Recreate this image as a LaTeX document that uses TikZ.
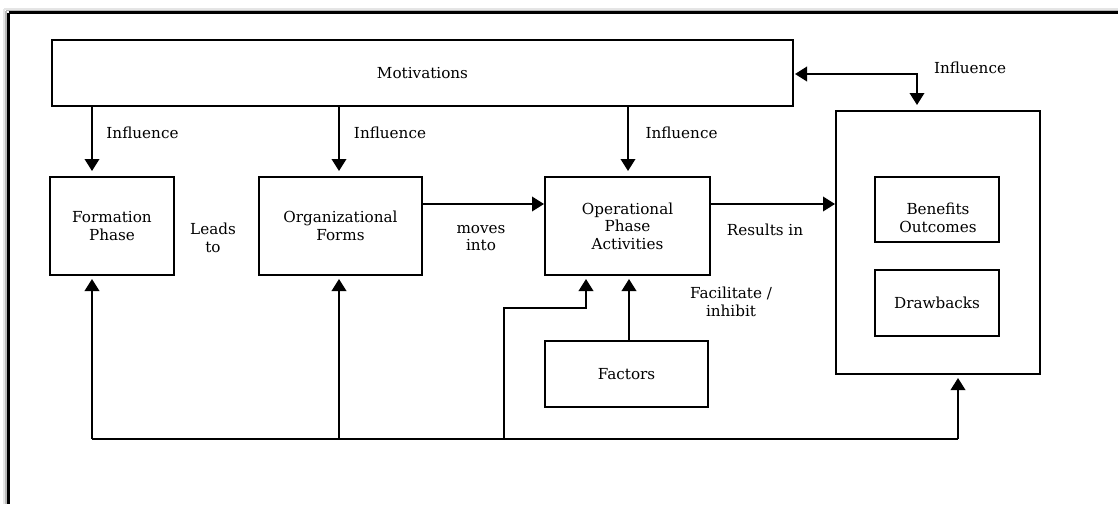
\documentclass[tikz,border=0pt]{standalone}
\usepackage{fontspec}
\setmainfont{DejaVu Serif}
\usetikzlibrary{arrows.meta}
\tikzset{hd/.tip={Triangle[width=14.5pt,length=12pt]}}
\begin{document}
\begin{tikzpicture}[x=1pt,y=-1pt,
  txt/.style={font=\fontsize{15.2}{17.5}\selectfont, align=center, inner sep=0pt},
  box/.style={draw, line width=2pt, txt, minimum width=#1},
  arr/.style={line width=2pt, -hd},
  bus/.style={line width=1.7pt}]
\useasboundingbox (0,0) rectangle (1118,504);

% page frame with a soft shadow on top and left
\draw[gray!20, line width=2pt] (4,8.5) -- (1118,8.5);
\draw[gray!20, line width=2pt] (4,8.5) -- (4,504);
\draw[gray!55, line width=1.6pt] (6,10.5) -- (1118,10.5);
\draw[gray!55, line width=1.6pt] (6,10.5) -- (6,504);
\draw[black, line width=3pt] (8.6,12.8) -- (1118,12.8);
\draw[black, line width=3pt] (8.6,12.8) -- (8.6,504);

% boxes
\node[box=741pt, minimum height=66pt] (mot) at (422.5,73) {Motivations};
\node[box=124pt, minimum height=98pt] (form) at (112,226) {Formation\\Phase};
\node[box=163pt, minimum height=98pt] (org) at (340.5,226) {Organizational\\Forms};
\node[box=165pt, minimum height=98pt] (ops) at (627.5,226) {Operational\\Phase\\Activities};
\node[box=204pt, minimum height=263pt] (res) at (938,242.5) {};
\node[box=124pt, minimum height=65pt] (ben) at (937,209.5) {};
\node[txt] (bentext) at (938,218) {Benefits\\Outcomes};
\node[box=124pt, minimum height=66pt] (drb) at (937,303) {Drawbacks};
\node[box=163pt, minimum height=66pt] (fac) at (626.5,374) {Factors};

% helper coordinates for connector positions
\coordinate (x1) at (92,0);
\coordinate (x2) at (339,0);
\coordinate (x3) at (628,0);
\coordinate (x4) at (629,0);
\coordinate (row) at (0,204);
\coordinate (top) at (0,74);
\coordinate (bend) at (917,74);
\coordinate (busL) at (92,439);
\coordinate (busM) at (339,439);
\coordinate (busE) at (504,439);
\coordinate (busR) at (958,439);
\coordinate (el1) at (504,308);
\coordinate (el2) at (586,308);

% influence arrows from motivations
\draw[arr, shorten >=5pt] (mot.south -| x1) -- (form.north -| x1);
\draw[arr, shorten >=5pt] (mot.south -| x2) -- (org.north -| x2);
\draw[arr, shorten >=5pt] (mot.south -| x3) -- (ops.north -| x3);
\draw[line width=2pt, hd-hd, shorten <=1pt, shorten >=5pt]
  (mot.east |- top) -- (bend) -- (res.north -| bend);

% flow along the middle row
\draw[arr] (org.east |- row) -- (ops.west |- row);
\draw[arr] (ops.east |- row) -- (res.west |- row);
\draw[arr, shorten >=3pt] (fac.north -| x4) -- (ops.south -| x4);

% feedback bus along the bottom
\draw[bus] (busL) -- (busR);
\draw[arr, shorten >=3pt] (busL) -- (form.south -| busL);
\draw[arr, shorten >=3pt] (busM) -- (org.south -| busM);
\draw[arr, shorten >=3pt] (busE) -- (el1) -- (el2) -- (ops.south -| el2);
\draw[arr, shorten >=3pt] (busR) -- (res.south -| busR);

% connector labels
\node[txt] (l1) at (142.5,133) {Influence};
\node[txt] (l2) at (390,133) {Influence};
\node[txt] (l3) at (681.5,133) {Influence};
\node[txt] (l4) at (970,68) {Influence};
\node[txt] (l5) at (213,238) {Leads\\to};
\node[txt] (l6) at (481,238) {moves\\into};
\node[txt] (l7) at (765,230) {Results in};
\node[txt] (l8) at (731,302) {Facilitate /\\inhibit};
\end{tikzpicture}
\end{document}
